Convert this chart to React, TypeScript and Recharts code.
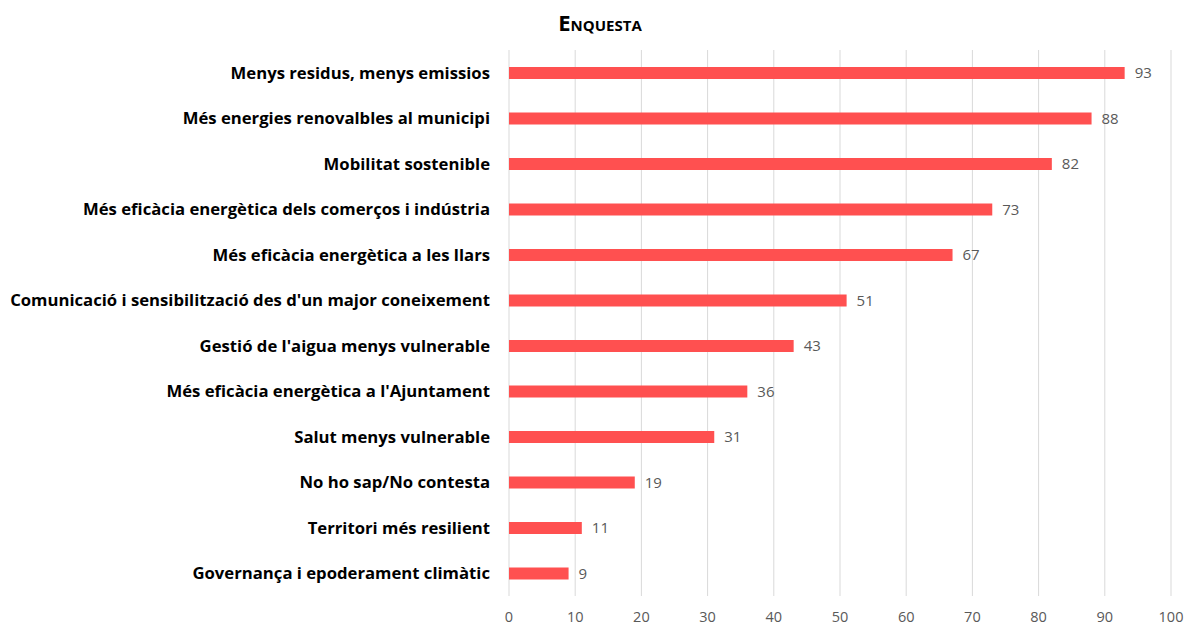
import { BarChart, Bar, XAxis, YAxis, CartesianGrid, LabelList } from "recharts";

const categories = [
  "Menys residus, menys emissios",
  "Més energies renovalbles al municipi",
  "Mobilitat sostenible",
  "Més eficàcia energètica dels comerços i indústria",
  "Més eficàcia energètica a les llars",
  "Comunicació i sensibilització des d'un major coneixement",
  "Gestió de l'aigua menys vulnerable",
  "Més eficàcia energètica a l'Ajuntament",
  "Salut menys vulnerable",
  "No ho sap/No contesta",
  "Territori més resilient",
  "Governança i epoderament climàtic",
];

const values = [93, 88, 82, 73, 67, 51, 43, 36, 31, 19, 11, 9];

const xTicks = [0, 10, 20, 30, 40, 50, 60, 70, 80, 90, 100];

const data = categories.map((name, i) => ({ name, value: values[i] }));

export default function App() {
  return (
    <div
      style={{
        position: "absolute",
        left: 0,
        top: 0,
        width: 1186,
        height: 626,
        background: "#fff",
        fontFamily: "'Open Sans', sans-serif",
      }}
    >
      <div
        style={{
          position: "absolute",
          top: 7,
          left: 0,
          width: 1200,
          textAlign: "center",
          fontSize: 22,
          fontWeight: 700,
          fontVariant: "small-caps",
          color: "#000",
          lineHeight: "30px",
        }}
      >
        Enquesta
      </div>
      <BarChart
        width={1186}
        height={626}
        data={data}
        layout="vertical"
        margin={{ top: 50, right: 15, bottom: 0, left: 0 }}
        barCategoryGap={0}
      >
        <CartesianGrid horizontal={false} stroke="#d9d9d9" />
        <XAxis
          type="number"
          domain={[0, 100]}
          ticks={xTicks}
          axisLine={false}
          tickLine={false}
          tickMargin={10}
          tick={{ fill: "#595959", fontSize: 14.5 }}
          height={30}
        />
        <YAxis
          type="category"
          dataKey="name"
          width={509}
          axisLine={false}
          tickLine={false}
          tickMargin={13}
          interval={0}
          tick={{ fill: "#000", fontSize: 16.7, fontWeight: 700 }}
        />
        <Bar dataKey="value" fill="#ff5050" barSize={12} isAnimationActive={false}>
          <LabelList
            dataKey="value"
            position="right"
            offset={10}
            fill="#595959"
            fontSize={15}
          />
        </Bar>
      </BarChart>
    </div>
  );
}
